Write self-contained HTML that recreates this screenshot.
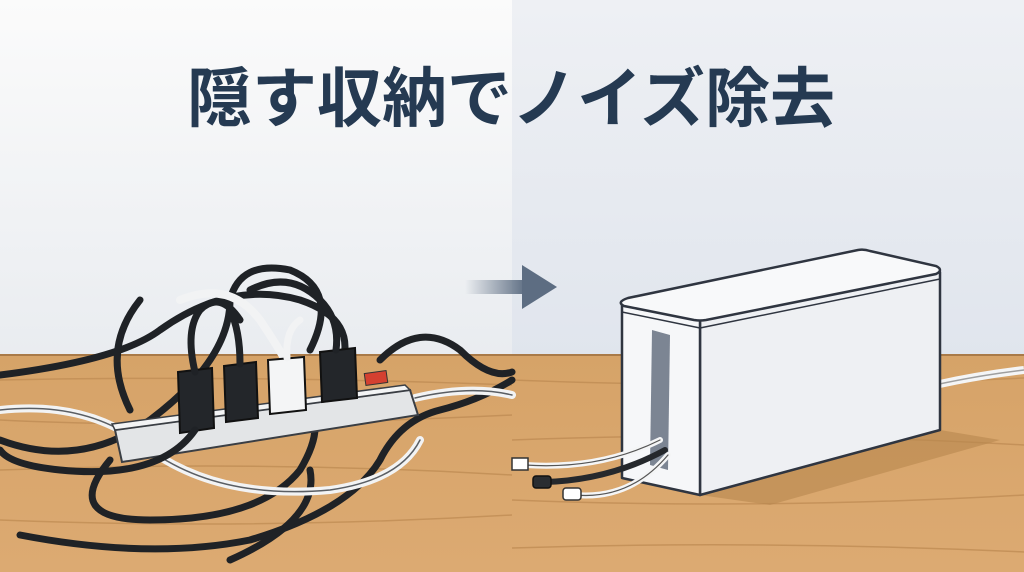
<!DOCTYPE html>
<html><head><meta charset="utf-8"><style>
html,body{margin:0;padding:0;width:1024px;height:572px;overflow:hidden;background:#fff}
svg{display:block}
text{font-family:"Liberation Sans","Noto Sans CJK JP",sans-serif}
</style></head><body>
<svg width="1024" height="572" viewBox="0 0 1024 572" xmlns="http://www.w3.org/2000/svg">
<defs>
<linearGradient id="bgL" x1="0" y1="0" x2="0" y2="1"><stop offset="0" stop-color="#fbfbfb"/><stop offset="1" stop-color="#e9ecf0"/></linearGradient>
<linearGradient id="bgR" x1="0" y1="0" x2="0" y2="1"><stop offset="0" stop-color="#eef0f4"/><stop offset="1" stop-color="#e0e5ed"/></linearGradient>
<linearGradient id="arr" x1="0" x2="1"><stop offset="0" stop-color="#5d6d82" stop-opacity="0"/><stop offset="1" stop-color="#5d6d82"/></linearGradient>
<linearGradient id="wood" x1="0" y1="0" x2="0" y2="1"><stop offset="0" stop-color="#d6a368"/><stop offset="1" stop-color="#dcaa72"/></linearGradient>
</defs>
<rect x="0" y="0" width="512" height="360" fill="url(#bgL)"/>
<rect x="512" y="0" width="512" height="360" fill="url(#bgR)"/>
<rect x="0" y="354" width="1024" height="218" fill="url(#wood)"/>
<line x1="0" y1="355" x2="1024" y2="355" stroke="#a97a48" stroke-width="2"/>
<g stroke="#c08d55" stroke-width="1.5" fill="none" opacity="0.8">
<path d="M0 380 Q250 375 512 385"/><path d="M0 420 Q200 430 512 415"/><path d="M0 470 Q260 460 512 475"/><path d="M0 520 Q250 530 512 515"/>
<path d="M512 380 Q760 390 1024 378"/><path d="M512 440 Q760 430 1024 445"/><path d="M512 500 Q760 510 1024 495"/><path d="M512 548 Q760 540 1024 552"/>
</g>
<text x="511" y="121" text-anchor="middle" font-size="65" font-weight="bold" fill="#253a52">隠す収納でノイズ除去</text>
<rect x="465" y="280" width="62" height="14" fill="url(#arr)"/>
<polygon points="522,265 557,287 522,309" fill="#5d6d82"/>
<g fill="none" stroke-linecap="round">
<g stroke="#1f2226" stroke-width="7">
<path d="M0 375 Q120 360 160 330 Q230 280 300 300 Q360 320 340 370"/>
<path d="M0 440 Q80 470 150 420 Q230 360 230 300 Q240 260 290 270 Q340 290 310 350"/>
<path d="M110 460 Q60 520 150 520 Q260 520 300 470 Q330 420 300 400"/>
<path d="M20 535 Q150 560 250 540 Q350 510 380 460 Q400 420 440 410 Q480 400 512 380"/>
<path d="M230 560 Q320 520 310 470"/>
<path d="M380 360 Q420 320 460 350 Q490 380 512 372"/>
<path d="M140 300 Q100 350 130 410"/>
</g>
<g stroke="#f2f3f4" stroke-width="8"><path d="M0 410 Q90 400 150 450 Q220 500 330 490 Q400 480 420 440"/><path d="M180 300 Q230 280 260 320 Q280 350 285 360"/><path d="M415 398 Q470 385 512 395"/></g>
<g stroke="#5a5e63" stroke-width="1.5"><path d="M0 410 Q90 400 150 450 Q220 500 330 490 Q400 480 420 440"/><path d="M415 398 Q470 385 512 395"/></g>
</g>
<polygon points="115,430 410,390 418,415 122,462" fill="#e3e5e7" stroke="#3a3e44" stroke-width="2"/>
<polygon points="115,430 410,390 405,385 112,424" fill="#f3f4f5" stroke="#3a3e44" stroke-width="1.5"/>
<rect x="365" y="372" width="22" height="12" fill="#d44030" stroke="#333" transform="rotate(-8 376 378)"/>
<g stroke="#111" stroke-width="2">
<path d="M178 372 L212 368 L214 428 L180 433 Z" fill="#23262a"/>
<path d="M224 366 L256 362 L258 418 L226 422 Z" fill="#23262a"/>
<path d="M268 360 L304 357 L306 410 L270 414 Z" fill="#f4f5f6"/>
<path d="M320 352 L355 348 L357 398 L322 402 Z" fill="#23262a"/>
</g>
<g fill="none" stroke-linecap="round">
<g stroke="#1f2226" stroke-width="7">
<path d="M195 372 Q185 330 200 310 Q220 290 240 320"/>
<path d="M240 364 Q240 330 230 310"/>
<path d="M336 350 Q340 320 320 300 Q290 270 250 290"/>
<path d="M195 430 Q160 480 60 470 Q10 465 0 450"/>
</g>
<path d="M287 358 Q285 330 300 320" stroke="#f2f3f4" stroke-width="7"/>
</g>
<polygon points="700,495 940,430 1000,440 770,505" fill="#b8874f" opacity="0.6"/>
<path d="M935 385 Q980 375 1024 370" fill="none" stroke="#f4f5f6" stroke-width="8"/>
<path d="M935 385 Q980 375 1024 370" fill="none" stroke="#666" stroke-width="1.5" opacity="0.6"/>
<polygon points="700,320 940,272 940,430 700,495" fill="#eef0f3" stroke="#2f3540" stroke-width="2.5" stroke-linejoin="round"/>
<polygon points="622,305 700,320 700,495 622,478" fill="#f6f7f9" stroke="#2f3540" stroke-width="2.5" stroke-linejoin="round"/>
<polygon points="652,330 670,335 668,470 650,465" fill="#7c8593"/>
<path d="M628 298 L858 250 Q864 249 870 251 L936 266 Q944 270 936 274 L706 320 Q700 321 694 320 L624 306 Q616 302 628 298 Z" fill="#f8f9fa" stroke="#2f3540" stroke-width="2.5"/>
<line x1="622" y1="312" x2="700" y2="328" stroke="#2f3540" stroke-width="1.5"/>
<line x1="700" y1="328" x2="940" y2="279" stroke="#2f3540" stroke-width="1.5"/>
<g fill="none" stroke-linecap="round">
<path d="M660 440 Q600 470 525 465" stroke="#f4f5f6" stroke-width="6"/>
<path d="M660 440 Q600 470 525 465" stroke="#555" stroke-width="1.2"/>
<path d="M665 450 Q610 480 545 482" stroke="#25282c" stroke-width="6"/>
<path d="M668 455 Q630 500 575 495" stroke="#f4f5f6" stroke-width="6"/>
<path d="M668 455 Q630 500 575 495" stroke="#555" stroke-width="1.2"/>
</g>
<rect x="512" y="458" width="16" height="12" fill="#fff" stroke="#333" stroke-width="1.5"/>
<rect x="533" y="476" width="18" height="12" rx="3" fill="#2a2d31" stroke="#111" stroke-width="1.5"/>
<rect x="563" y="488" width="18" height="12" rx="3" fill="#fff" stroke="#333" stroke-width="1.5"/>
</svg>
</body></html>
